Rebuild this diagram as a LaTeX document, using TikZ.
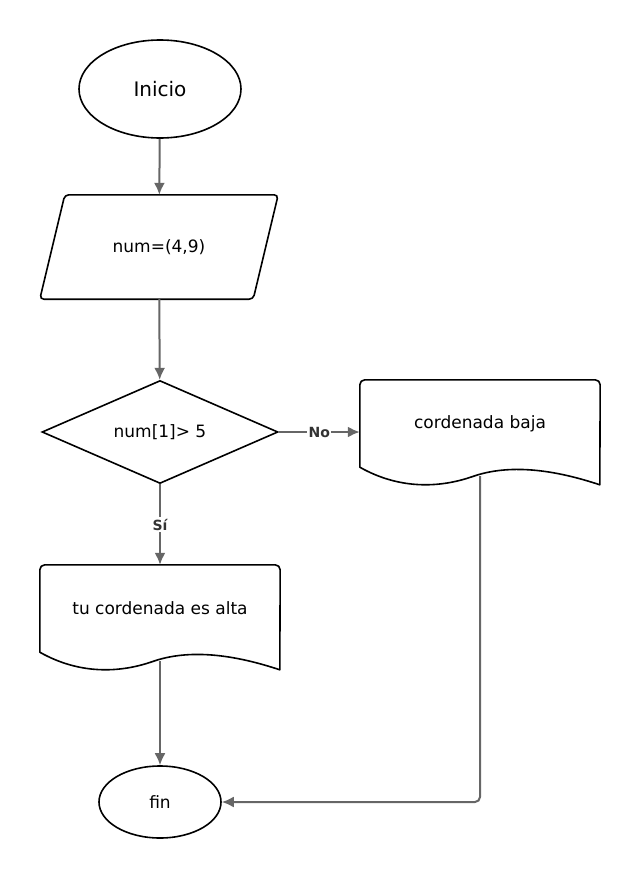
\documentclass[tikz,border=0pt]{standalone}
\usepackage{fontspec}
\setmainfont{DejaVu Sans}
\usetikzlibrary{shapes.geometric,arrows.meta,calc}
\definecolor{LineGray}{HTML}{666666}
\definecolor{LabelGray}{HTML}{333333}
\begin{document}
\begin{tikzpicture}
[x=1pt,y=-1pt,
outline/.style={draw=black,line width=1.6pt,inner sep=0pt,font=\fontsize{17}{19}\selectfont},
terminal/.style={outline,ellipse},
decision/.style={outline,diamond,aspect=2,minimum width=236pt,minimum height=103pt},
textbox/.style={inner sep=0pt,font=\fontsize{17}{19}\selectfont},
docline/.style={draw=black,line width=1.6pt,line join=round},
arr/.style={draw=LineGray,line width=2pt,-{Latex[length=12pt,width=11pt]}},
lbl/.style={fill=white,inner sep=1.5pt,text=LabelGray,font=\fontsize{14}{16}\selectfont\bfseries}
]
\newcommand{\iooutline}[1]{%
\path[docline,rounded corners=4pt] (#1.south west) -- ($(#1.north west)+(25,0)$) -- (#1.north east)
 -- ($(#1.south east)+(-25,0)$) -- cycle;}
\newcommand{\docoutline}[1]{%
\path[docline] ($(#1.north west)+(0,40)$) [rounded corners=5pt] -- (#1.north west) -- (#1.north east)
 [sharp corners] -- ($(#1.north west)+(240,105)$)
 .. controls ($(#1.north west)+(180,85)$) and ($(#1.north west)+(140,87)$) .. ($(#1.north west)+(112,97)$)
 .. controls ($(#1.north west)+(80,108)$) and ($(#1.north west)+(40,110)$) .. (#1.south west) -- cycle;}
\useasboundingbox (0,0) rectangle (640,878);
%% shapes
\node[terminal,minimum width=162pt,minimum height=98pt,font=\fontsize{20}{22}\selectfont] (start) at (160,89) {Inicio};
\node[textbox,minimum width=238pt,minimum height=104pt] (input) at (159,247) {num=(4,9)};
\node[decision] (check) at (160,432) {num[1]> 5};
\node[textbox,minimum width=240pt,minimum height=87pt] (baja) at (480,423.5) {cordenada baja};
\node[textbox,minimum width=240pt,minimum height=87pt] (alta) at (160,608.5) {tu cordenada es alta};
\node[terminal,minimum width=122pt,minimum height=72pt] (fin) at (160,802) {fin};
%% outlines
\iooutline{input}
\docoutline{baja}
\docoutline{alta}
%% connectors
\draw[arr] (start) -- (input);
\draw[arr] (input) -- (check);
\draw[arr] (check.east) -- node[lbl]{No} (check.east -| baja.west);
\draw[arr] (check.south) -- node[lbl]{Sí} (alta.north);
\draw[arr,shorten <=9pt] (alta.south) -- (fin.north);
\draw[arr,shorten <=9pt,rounded corners=5pt] (baja.south) |- (fin.east);
\end{tikzpicture}
\end{document}
